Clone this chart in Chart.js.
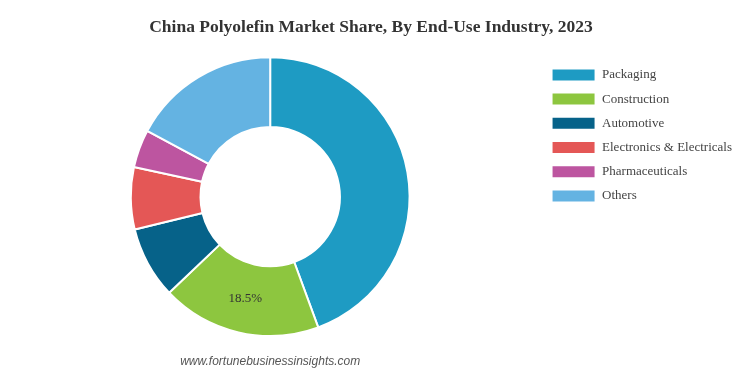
<!DOCTYPE html>
<html>
<head>
<meta charset="utf-8">
<script src="https://cdn.jsdelivr.net/npm/chart.js@4"></script>
<style>
  html, body { margin: 0; padding: 0; background: #fff; }
  #wrap { width: 745px; height: 372px; }
</style>
</head>
<body>
<div id="wrap"><canvas id="shareChart" width="745" height="372"></canvas></div>
<script>
// Chart data
var industries = ['Packaging', 'Construction', 'Automotive', 'Electronics & Electricals', 'Pharmaceuticals', 'Others'];
var shares = [44.4, 18.5, 8.3, 7.2, 4.4, 17.2];
var sliceColors = ['#1e9bc3', '#8dc63f', '#066289', '#e45756', '#bd55a0', '#64b3e2'];
var labelledSlices = [1]; // only Construction shows its value

// Draws the value label and the source line
var extrasPlugin = {
    id: 'extras',
    afterDatasetsDraw: function(chart) {
        var ctx = chart.ctx;
        var meta = chart.getDatasetMeta(0);
        ctx.save();
        ctx.font = '13px "Liberation Serif", serif';
        ctx.fillStyle = '#333';
        ctx.textAlign = 'center';
        ctx.textBaseline = 'middle';
        labelledSlices.forEach(function(i) {
            var pos = meta.data[i].tooltipPosition();
            ctx.fillText(shares[i] + '%', pos.x - 1, pos.y);
        });
        var area = chart.chartArea;
        ctx.font = 'italic 12px "Liberation Sans", Arial, sans-serif';
        ctx.fillStyle = '#555';
        ctx.fillText('www.fortunebusinessinsights.com', (area.left + area.right) / 2, 362);
        ctx.restore();
    }
};

var ctx = document.getElementById('shareChart').getContext('2d');
new Chart(ctx, {
    type: 'doughnut',
    data: {
        labels: industries,
        datasets: [{
            data: shares,
            backgroundColor: sliceColors,
            borderColor: '#fff',
            borderWidth: 2
        }]
    },
    options: {
        responsive: false,
        animation: false,
        cutout: '50%',
        layout: { padding: { left: 0, right: 3, top: 0, bottom: 35 } },
        plugins: {
            title: {
                display: true,
                text: 'China Polyolefin Market Share, By End-Use Industry, 2023',
                color: '#333',
                font: { family: '"Liberation Serif", serif', size: 17.5, weight: 'bold' },
                padding: { top: 16.5, bottom: 18.7 }
            },
            legend: {
                position: 'right',
                align: 'start',
                title: {
                    display: true,
                    text: ' ',
                    font: { size: 1 },
                    padding: { top: 56, bottom: 0 }
                },
                labels: {
                    boxWidth: 44,
                    boxHeight: 13,
                    padding: 11.2,
                    color: '#444',
                    font: { family: '"Liberation Serif", serif', size: 13 }
                }
            },
            tooltip: { enabled: false }
        }
    },
    plugins: [extrasPlugin]
});
</script>
</body>
</html>
